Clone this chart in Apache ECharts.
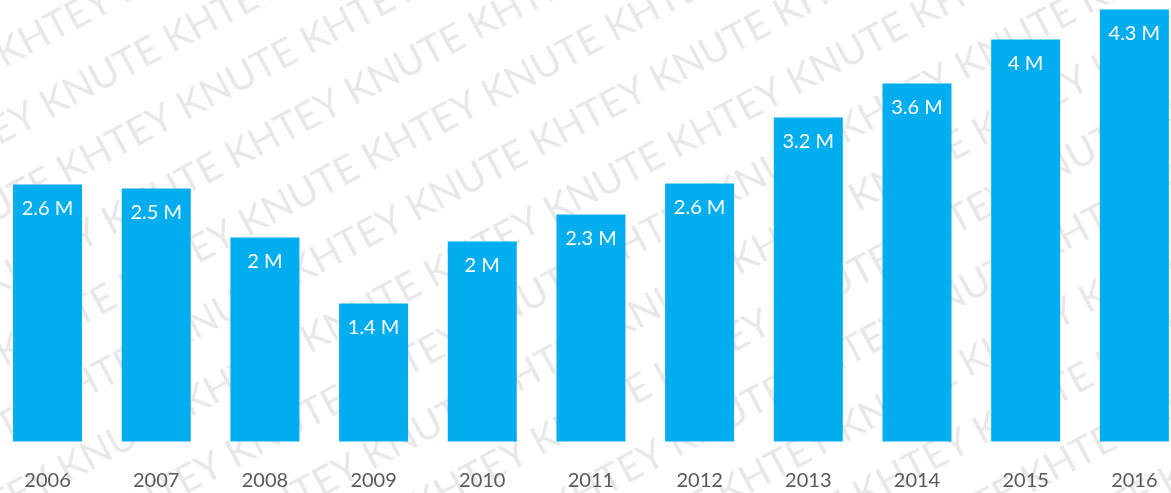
<!DOCTYPE html>
<html>
<head>
<meta charset="utf-8">
<title>Bars 2006-2016</title>
<script src="https://cdn.jsdelivr.net/npm/echarts@6/dist/echarts.min.js"></script>
<style>
  html, body { margin: 0; padding: 0; background: #fff; }
  #chart { width: 1171px; height: 493px; }
</style>
</head>
<body>
<div id="chart"></div>
<script>
const years = ['2006', '2007', '2008', '2009', '2010', '2011', '2012', '2013', '2014', '2015', '2016']
// millions
const values = [2.57, 2.53, 2.04, 1.38, 2.0, 2.27, 2.58, 3.24, 3.58, 4.02, 4.32]
const watermarkText = 'KHTEY KNUTE'

const myChart = echarts.init(document.getElementById('chart'))

// diagonal watermark over the whole picture
const wmRows = []
for (let r = -14; r <= 14; r++) {
  wmRows.push({
    type: 'text',
    x: -1100 + (r % 2 === 0 ? 0 : 120),
    y: r * 66,
    silent: true,
    style: {
      text: new Array(14).fill(watermarkText).join(' '),
      font: '39px Lato, sans-serif',
      fill: 'rgba(140,140,140,0.2)'
    }
  })
}

const option = {
  backgroundColor: '#fff',
  animation: false,
  grid: {
    left: -6.8,
    right: -17.7,
    top: 1.5,
    bottom: 51.5,
    containLabel: false,
    outerBoundsMode: 'none'
  },
  xAxis: {
    type: 'category',
    data: years,
    axisLine: { show: false },
    axisTick: { show: false },
    axisLabel: {
      color: '#595959',
      fontSize: 20,
      fontFamily: 'Lato, sans-serif',
      lineHeight: 20,
      margin: 29.5
    }
  },
  yAxis: {
    type: 'value',
    min: 0,
    max: 4.4,
    show: false
  },
  series: [
    {
      type: 'bar',
      data: values,
      barWidth: 69,
      itemStyle: { color: '#00aeef' },
      label: {
        show: true,
        position: 'insideTop',
        distance: 14,
        color: '#fff',
        fontSize: 20,
        fontFamily: 'Lato, sans-serif',
        formatter: (p) => Math.round(p.value * 10) / 10 + ' M'
      }
    }
  ],
  graphic: [
    {
      type: 'group',
      x: 585,
      y: 246,
      rotation: 28 * Math.PI / 180,
      z: 100,
      silent: true,
      children: wmRows
    }
  ]
}

myChart.setOption(option)
</script>
</body>
</html>
